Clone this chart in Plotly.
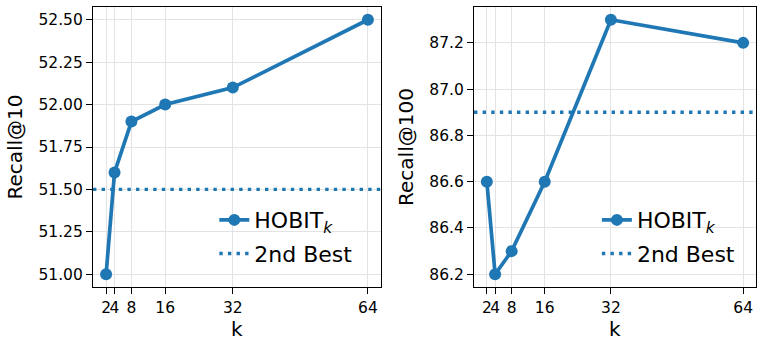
import plotly.graph_objects as go

k_values = [2, 4, 8, 16, 32, 64]
tick_labels = ["2", "4", "8", "16", "32", "64"]
recall10 = [51.0, 51.6, 51.9, 52.0, 52.1, 52.5]
recall100 = [86.6, 86.2, 86.3, 86.6, 87.3, 87.2]
second_best10 = 51.5
second_best100 = 86.9
recall10_ticks = [51.0, 51.25, 51.5, 51.75, 52.0, 52.25, 52.5]
recall100_ticks = [86.2, 86.4, 86.6, 86.8, 87.0, 87.2]

BLUE = "#1f77b4"
FONT = "DejaVu Sans"

def pad_range(vals, frac=0.05):
    lo, hi = min(vals), max(vals)
    m = (hi - lo) * frac
    return [lo - m, hi + m]

xr = pad_range(k_values)
y10 = pad_range(recall10)
y100 = pad_range(recall100)

fig = go.Figure()

def add_panel(yvals, best, xa, ya, legend):
    fig.add_trace(go.Scatter(
        x=k_values, y=yvals, mode="lines+markers",
        line=dict(color=BLUE, width=3.7),
        marker=dict(color=BLUE, size=12),
        name="HOBIT<sub><i>k</i></sub>",
        xaxis=xa, yaxis=ya, legend=legend, legendgroup="a" + legend,
    ))
    fig.add_trace(go.Scatter(
        x=xr, y=[best, best], mode="lines",
        line=dict(color=BLUE, width=3.4, dash="3.4px,5.2px"),
        name="2nd Best",
        xaxis=xa, yaxis=ya, legend=legend, legendgroup="b" + legend,
    ))

add_panel(recall10, second_best10, "x", "y", "legend")
add_panel(recall100, second_best100, "x2", "y2", "legend2")

axis_common = dict(
    showline=True, linecolor="black", linewidth=1.2, mirror=True,
    ticks="outside", ticklen=6, tickwidth=1.2, tickcolor="black",
    showgrid=True, gridcolor="#e3e3e3", gridwidth=1.2,
    zeroline=False, automargin=False, tickangle=0,
    tickfont=dict(family=FONT, size=15.5, color="black"),
)

TITLE_FONT = dict(family=FONT, size=20, color="black")

fig.update_layout(
    width=757, height=337,
    margin=dict(l=93, r=1, t=7, b=50),
    plot_bgcolor="white", paper_bgcolor="white",
    font=dict(family=FONT, color="black"),
    showlegend=True,
    xaxis=dict(domain=[0, 0.4344], range=xr, tickvals=k_values, ticktext=tick_labels,
               **axis_common),
    yaxis=dict(range=y10, tickvals=recall10_ticks, tickformat=".2f",
               title=dict(text="Recall@10", font=TITLE_FONT, standoff=10), **axis_common),
    xaxis2=dict(domain=[0.5747, 1], range=xr, tickvals=k_values, ticktext=tick_labels,
                anchor="y2", **axis_common),
    yaxis2=dict(range=y100, tickvals=recall100_ticks, tickformat=".1f", anchor="x2",
                title=dict(text="Recall@100", font=TITLE_FONT, standoff=10), **axis_common),
    legend=dict(x=0.183, y=0.314, xanchor="left", yanchor="top",
                font=dict(family=FONT, size=22, color="black"), bgcolor="rgba(255,255,255,0)",
                tracegroupgap=2),
    legend2=dict(x=0.760, y=0.314, xanchor="left", yanchor="top",
                 font=dict(family=FONT, size=22, color="black"), bgcolor="rgba(255,255,255,0)",
                 tracegroupgap=2),
    annotations=[
        dict(text="k", xref="x domain", yref="paper", x=0.5, y=-0.15,
             xanchor="center", yanchor="middle", showarrow=False, font=TITLE_FONT),
        dict(text="k", xref="x2 domain", yref="paper", x=0.5, y=-0.15,
             xanchor="center", yanchor="middle", showarrow=False, font=TITLE_FONT),
    ],
)

fig.write_html(
    "out.html",
    config={"displayModeBar": False},
    post_script="document.body.style.margin='0';document.body.style.overflow='hidden';",
)
